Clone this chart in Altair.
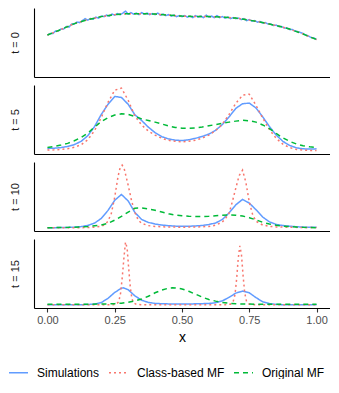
import altair as alt
import pandas as pd

SERIES = ["Simulations", "Class-based MF", "Original MF"]
COLORS = ["#619CFF", "#F8766D", "#00BA38"]
DASHES = [[1, 0], [2, 3], [5, 4]]
TIMES = ["t = 0", "t = 5", "t = 10", "t = 15"]
X_TICKS = [0.0, 0.25, 0.5, 0.75, 1.0]
FONT = "Liberation Sans"

# ---------- t = 0 ----------
sim0_x = [round(i * 0.01, 2) for i in range(101)]
sim0_y = [0.78, 0.81, 0.81, 0.86, 0.86, 0.90, 0.90, 0.95, 0.94, 1.00,
          1.00, 1.04, 1.03, 1.07, 1.11, 1.08, 1.11, 1.10, 1.14, 1.12,
          1.16, 1.15, 1.18, 1.16, 1.20, 1.18, 1.21, 1.19, 1.22, 1.26,
          1.20, 1.23, 1.20, 1.22, 1.19, 1.23, 1.20, 1.22, 1.19, 1.21,
          1.19, 1.22, 1.18, 1.20, 1.17, 1.19, 1.16, 1.18, 1.15, 1.17,
          1.15, 1.17, 1.14, 1.16, 1.13, 1.17, 1.14, 1.16, 1.13, 1.18,
          1.14, 1.16, 1.13, 1.17, 1.13, 1.15, 1.12, 1.14, 1.11, 1.13,
          1.11, 1.12, 1.09, 1.11, 1.07, 1.09, 1.06, 1.07, 1.04, 1.05,
          1.02, 1.03, 1.00, 1.00, 0.97, 0.98, 0.95, 0.95, 0.92, 0.92,
          0.89, 0.89, 0.86, 0.85, 0.83, 0.81, 0.78, 0.76, 0.73, 0.72,
          0.69]
mf0_x = [round(i * 0.05, 2) for i in range(21)]
mf0_y = [0.78, 0.89, 1.01, 1.09, 1.15, 1.19, 1.21, 1.21, 1.20, 1.18,
         1.16, 1.15, 1.15, 1.14, 1.12, 1.08, 1.03, 0.97, 0.90, 0.80, 0.69]

# ---------- t = 5 ----------
grid41 = [round(i * 0.025, 3) for i in range(41)]
sim5_y = [0.12, 0.13, 0.16, 0.22, 0.31, 0.47, 0.75, 1.20, 1.80, 2.30,
          2.69, 2.64, 2.30, 1.78, 1.50, 1.17, 0.90, 0.70, 0.59, 0.53,
          0.51, 0.55, 0.62, 0.71, 0.83, 1.02, 1.30, 1.68, 2.10, 2.33,
          2.36, 2.12, 1.68, 1.20, 0.78, 0.47, 0.27, 0.15, 0.10, 0.09, 0.10]
cls5_y = [0.04, 0.05, 0.07, 0.11, 0.18, 0.30, 0.55, 1.00, 1.65, 2.40,
          3.00, 3.10, 2.50, 1.72, 1.28, 0.98, 0.78, 0.62, 0.52, 0.47,
          0.45, 0.47, 0.53, 0.63, 0.78, 1.00, 1.32, 1.80, 2.35, 2.75,
          2.80, 2.25, 1.62, 1.05, 0.62, 0.33, 0.16, 0.07, 0.04, 0.02, 0.02]
org5_y = [0.17, 0.22, 0.29, 0.37, 0.50, 0.66, 0.88, 1.18, 1.45, 1.64,
          1.77, 1.83, 1.80, 1.70, 1.58, 1.50, 1.42, 1.33, 1.23, 1.16,
          1.12, 1.11, 1.13, 1.18, 1.24, 1.30, 1.36, 1.42, 1.47, 1.51,
          1.49, 1.42, 1.28, 1.10, 0.86, 0.64, 0.47, 0.34, 0.25, 0.20, 0.17]

# ---------- t = 10 ----------
sim10_y = [0.02, 0.03, 0.04, 0.06, 0.10, 0.18, 0.35, 0.68, 1.35, 2.50,
           3.95, 4.78, 3.85, 2.20, 1.20, 0.78, 0.55, 0.40, 0.31, 0.25,
           0.22, 0.23, 0.27, 0.34, 0.48, 0.70, 1.20, 2.15, 3.30, 4.07,
           3.55, 2.60, 1.55, 0.85, 0.50, 0.33, 0.24, 0.16, 0.11, 0.08, 0.07]
cls10_x = [0.000, 0.050, 0.100, 0.150, 0.175, 0.200, 0.2125, 0.225, 0.2375,
           0.250, 0.2625, 0.270, 0.2775, 0.285, 0.2925, 0.300, 0.3125, 0.325,
           0.3375, 0.350, 0.375, 0.400, 0.450, 0.500, 0.550, 0.600, 0.625,
           0.650, 0.6625, 0.675, 0.6875, 0.700, 0.7125, 0.725, 0.7375, 0.750,
           0.7625, 0.775, 0.800, 0.825, 0.850, 0.900, 0.950, 1.000]
cls10_y = [0.01, 0.01, 0.02, 0.04, 0.10, 0.25, 0.45, 0.95, 2.10,
           4.40, 7.40, 8.60, 8.98, 8.50, 7.30, 6.10, 3.90, 2.20,
           1.10, 0.65, 0.32, 0.20, 0.12, 0.10, 0.12, 0.20, 0.38,
           0.85, 1.40, 2.10, 3.80, 5.70, 7.50, 8.26, 6.50, 3.70,
           1.90, 0.95, 0.40, 0.22, 0.14, 0.08, 0.06, 0.05]
org10_y = [0.02, 0.03, 0.05, 0.07, 0.10, 0.14, 0.20, 0.30, 0.42, 0.65,
           1.10, 1.65, 2.25, 2.82, 2.86, 2.72, 2.52, 2.28, 2.02, 1.84,
           1.74, 1.66, 1.62, 1.62, 1.66, 1.74, 1.82, 1.86, 1.82, 1.70,
           1.46, 1.15, 0.80, 0.55, 0.38, 0.26, 0.17, 0.11, 0.07, 0.04, 0.02]

# ---------- t = 15 ----------
sim15_x = [0.000, 0.050, 0.100, 0.125, 0.150, 0.175, 0.200, 0.225, 0.250,
           0.275, 0.2825, 0.300, 0.325, 0.350, 0.375, 0.400, 0.425, 0.450,
           0.500, 0.550, 0.600, 0.625, 0.650, 0.675, 0.700, 0.725, 0.750,
           0.775, 0.800, 0.825, 0.850, 0.875, 0.900, 0.950, 1.000]
sim15_y = [0.02, 0.02, 0.03, 0.05, 0.10, 0.25, 0.66, 1.90, 3.60,
           4.85, 4.94, 4.40, 2.60, 1.35, 0.70, 0.42, 0.32, 0.28,
           0.27, 0.29, 0.40, 0.62, 1.15, 2.20, 3.40, 4.00, 3.50,
           2.10, 0.90, 0.35, 0.12, 0.05, 0.03, 0.02, 0.02]
cls15_x = [0.000, 0.100, 0.200, 0.240, 0.255, 0.265, 0.272, 0.278, 0.284,
           0.290, 0.296, 0.302, 0.308, 0.314, 0.320, 0.330, 0.350, 0.400,
           0.500, 0.600, 0.660, 0.680, 0.690, 0.697, 0.703, 0.709, 0.715,
           0.721, 0.727, 0.733, 0.740, 0.750, 0.770, 0.850, 1.000]
cls15_y = [0.01, 0.01, 0.02, 0.04, 0.15, 0.90, 3.50, 8.00, 13.50,
           18.20, 16.50, 10.50, 5.00, 1.80, 0.60, 0.15, 0.05, 0.02,
           0.02, 0.02, 0.04, 0.20, 0.90, 3.00, 7.50, 13.50, 17.10,
           14.50, 8.50, 3.50, 0.90, 0.20, 0.05, 0.02, 0.01]
org15_x = [0.000, 0.050, 0.100, 0.150, 0.200, 0.250, 0.275, 0.300, 0.325,
           0.350, 0.375, 0.400, 0.425, 0.450, 0.465, 0.475, 0.500, 0.525,
           0.550, 0.575, 0.600, 0.625, 0.650, 0.675, 0.700, 0.750, 0.800,
           0.900, 1.000]
org15_y = [0.18, 0.18, 0.19, 0.20, 0.23, 0.35, 0.50, 0.78, 1.15,
           1.70, 2.50, 3.50, 4.30, 4.85, 4.94, 4.90, 4.62, 3.95,
           3.10, 2.25, 1.55, 1.08, 0.72, 0.45, 0.32, 0.22, 0.19,
           0.18, 0.18]

PANELS = [
    [(sim0_x, sim0_y), (mf0_x, mf0_y), (mf0_x, mf0_y)],
    [(grid41, sim5_y), (grid41, cls5_y), (grid41, org5_y)],
    [(grid41, sim10_y), (cls10_x, cls10_y), (grid41, org10_y)],
    [(sim15_x, sim15_y), (cls15_x, cls15_y), (org15_x, org15_y)],
]

color_scale = alt.Scale(domain=SERIES, range=COLORS)
dash_scale = alt.Scale(domain=SERIES, range=DASHES)
legend = alt.Legend(
    title=None, orient="none", legendX=-26, legendY=354, direction="horizontal",
    symbolType="stroke", symbolSize=361, symbolStrokeWidth=1.5,
    labelFontSize=12, labelFont=FONT, labelColor="#000000",
    labelOffset=8, columnPadding=6, padding=0,
)

panels = []
for k, (label, series_data) in enumerate(zip(TIMES, PANELS)):
    frames = []
    for name, (xs, ys) in zip(SERIES, series_data):
        frames.append(pd.DataFrame({"x": xs, "y": ys, "series": name}))
    ymax = max(f["y"].max() for f in frames)
    ydom = [-0.05 * ymax, 1.05 * ymax]
    bottom = k == len(TIMES) - 1
    if bottom:
        xaxis = alt.Axis(values=X_TICKS, format=".2f", tickSize=4, tickColor="#333333",
                         tickWidth=1.1, labelFontSize=11, labelFont=FONT,
                         labelColor="#4D4D4D", labelPadding=2, title="x",
                         titleFontSize=14, titleFont=FONT, titleFontWeight="normal",
                         titleColor="#000000", titlePadding=5, domainColor="#000000",
                         domainWidth=1.1, grid=False)
    else:
        xaxis = alt.Axis(labels=False, ticks=False, title=None, domainColor="#000000",
                         domainWidth=1.1, grid=False)
    yaxis = alt.Axis(labels=False, ticks=False, grid=False, title=label,
                     titleFontSize=11, titleFont=FONT, titleFontWeight="normal",
                     titleColor="#1A1A1A", titlePadding=14, domainColor="#000000",
                     domainWidth=1.1)
    layers = []
    for f in frames:
        layers.append(
            alt.Chart(f).mark_line(strokeWidth=1.5, strokeCap="butt").encode(
                x=alt.X("x:Q", scale=alt.Scale(domain=[-0.05, 1.05], nice=False, zero=False), axis=xaxis),
                y=alt.Y("y:Q", scale=alt.Scale(domain=ydom, nice=False, zero=False), axis=yaxis),
                color=alt.Color("series:N", scale=color_scale, legend=legend),
                strokeDash=alt.StrokeDash("series:N", scale=dash_scale, legend=legend),
            )
        )
    panels.append(alt.layer(*layers).properties(width=296, height=69))

chart = alt.vconcat(*panels, spacing=8).properties(
    padding={"left": 0, "top": 0, "right": 0, "bottom": 0}
).configure(font=FONT).configure_view(stroke="transparent", strokeWidth=0)

chart.save("out.html", embed_options={"renderer": "svg", "actions": False})
